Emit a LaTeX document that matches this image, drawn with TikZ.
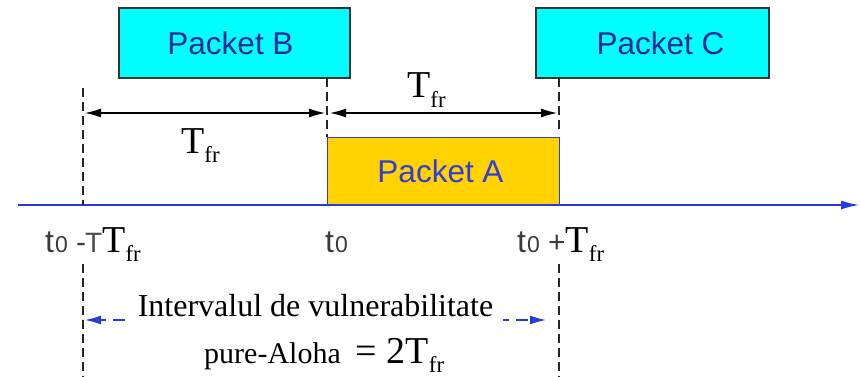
\documentclass[tikz,border=0pt]{standalone}
\usepackage{fontspec}
\setmainfont{Liberation Serif}
\setsansfont{Liberation Sans}
\usetikzlibrary{arrows.meta}

\definecolor{pktcyan}{RGB}{0,255,255}
\definecolor{pktyellow}{RGB}{255,210,0}
\definecolor{pktblue}{RGB}{40,40,150}
\definecolor{pktAblue}{RGB}{50,60,220}
\definecolor{axisblue}{RGB}{40,60,220}
\definecolor{tgray}{RGB}{60,60,60}

% T with subscript "fr", set in the serif face
\newcommand{\Tframe}[1][38]{{\fontsize{#1}{#1}\selectfont T}\raisebox{-0.24\dimexpr#1pt\relax}{\fontsize{0.6\dimexpr#1pt\relax}{0pt}\selectfont fr}}
% t with subscript 0, set in the sans face
\newcommand{\tzero}{{\sffamily\color{tgray}\fontsize{32}{32}\selectfont t\kern1pt{\fontsize{23}{23}\selectfont 0}}}

\begin{document}
\begin{tikzpicture}[x=1pt,y=-1pt,
  packet/.style={draw=black!80,line width=1.2pt,fill=pktcyan,inner sep=0pt,
    font=\sffamily\fontsize{31.5}{31.5}\selectfont,text=pktblue},
  guide/.style={draw=black!85,line width=1.2pt,dash pattern=on 9pt off 5pt},
  span/.style={draw=black,line width=1.2pt,{Latex[length=16pt,width=9pt]}-{Latex[length=16pt,width=9pt]}},
  vuln/.style={draw=axisblue,line width=1.3pt,dash pattern=on 12pt off 7pt,-{Latex[length=16pt,width=9pt]}},
  lbl/.style={inner sep=0pt,anchor=base west}]

\useasboundingbox (0,0) rectangle (861,377);

% packets
\node[packet,minimum width=231pt,minimum height=70pt] (B) at (234.5,43) {Packet B\hspace*{8pt}};
\node[packet,minimum width=233pt,minimum height=70pt] (C) at (652.5,43) {\hspace*{16pt}Packet C};
\node[packet,fill=pktyellow,draw=pktAblue,text=pktAblue,line width=1pt,
  minimum width=232pt,minimum height=68pt] (A) at (443,171) {Packet A\hspace*{5pt}};

% time axis
\coordinate (ax0) at (18,205);
\coordinate (ax1) at (859,205);
\draw[axisblue,line width=1.4pt,-{Latex[length=18pt,width=9pt]}] (ax0) -- (ax1);

% reference instants on the axis
\coordinate (tL) at (83,205);
\coordinate (tM) at (327,205);
\coordinate (tR) at (559,205);

% vertical guides
\coordinate (gLtop) at (83,88);
\coordinate (gMtop) at (327,78);
\coordinate (gMbot) at (327,137);
\coordinate (gRtop) at (559,78);
\coordinate (gRbot) at (559,134);
\coordinate (gLlow) at (83,264);
\coordinate (gRlow) at (559,264);
\coordinate (gLend) at (83,377);
\coordinate (gRend) at (559,377);
\draw[guide] (gLtop) -- (tL);
\draw[guide] (gMtop) -- (gMbot);
\draw[guide] (gRtop) -- (gRbot);
\draw[guide] (gLlow) -- (gLend);
\draw[guide] (gRlow) -- (gRend);

% frame-time spans
\coordinate (s1a) at (85,113);
\coordinate (s1b) at (325,113);
\coordinate (s2a) at (330,113);
\coordinate (s2b) at (557,113);
\draw[span] (s1a) -- (s1b);
\draw[span] (s2a) -- (s2b);
\node[lbl] (T1) at (407,98) {\Tframe};
\node[lbl] (T2) at (181,153) {\Tframe};

% axis labels
\node[lbl] (lL) at (45,252) {\tzero{\sffamily\color{tgray}\fontsize{30}{30}\selectfont\ -\kern-1pt{\color{black!70}\fontsize{28}{28}\selectfont T}}\Tframe};
\node[lbl] (lM) at (325,252) {\tzero};
\node[lbl] (lR) at (517,252) {\tzero{\sffamily\color{tgray}\fontsize{30}{30}\selectfont\ +}\Tframe};

% vulnerable interval
\coordinate (v1a) at (125,320);
\coordinate (v1b) at (85,320);
\coordinate (v2a) at (503,320);
\coordinate (v2b) at (546,320);
\draw[vuln] (v1a) -- (v1b);
\draw[vuln,dash phase=6pt] (v2a) -- (v2b);
\node[inner sep=0pt,anchor=base] (txt1) at (315.5,316) {\fontsize{32}{32}\selectfont Intervalul de vulnerabilitate};
\node[inner sep=0pt,anchor=base west] (txt2) at (204,363) {\fontsize{30}{30}\selectfont pure-Aloha \ {\fontsize{38}{38}\selectfont= 2}\Tframe};
\end{tikzpicture}
\end{document}
